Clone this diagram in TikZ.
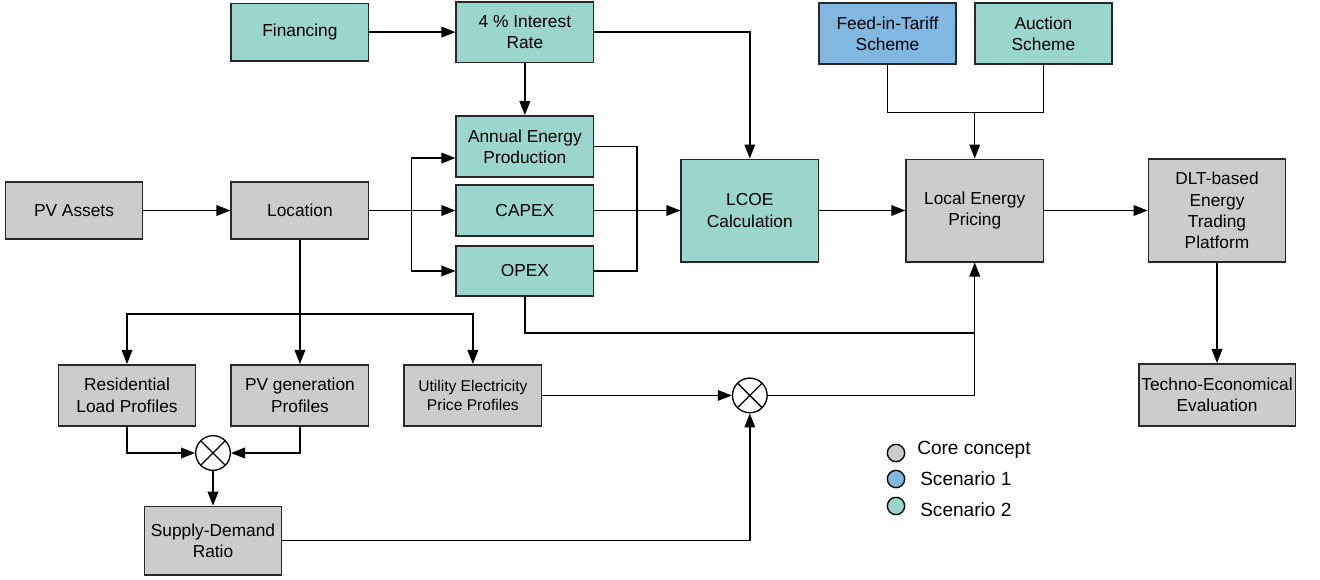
\documentclass[tikz,border=0pt]{standalone}
\usepackage{fontspec}
\setmainfont{Liberation Sans}
\usepackage{xcolor}
\usepackage{tikz}
\usetikzlibrary{arrows.meta, positioning, calc}
\definecolor{coregray}{RGB}{204,204,204}
\definecolor{scenblue}{RGB}{128,184,226}
\definecolor{scenteal}{RGB}{154,214,203}
\definecolor{edgedark}{RGB}{40,40,40}

\begin{document}
\begin{tikzpicture}[
  x=0.75pt, y=-0.75pt,
  node distance=0pt,
  box/.style={
    rectangle, minimum width=103pt, minimum height=43pt, inner sep=2pt,
    align=center, draw=edgedark, line width=1.2pt,
    font=\fontsize{13}{16}\selectfont
  },
  core/.style={box, fill=coregray},
  scenA/.style={box, fill=scenblue},
  scenB/.style={box, fill=scenteal},
  mult/.style={
    circle, draw=black, fill=white, line width=1pt, minimum size=26pt, inner sep=0pt,
    path picture={\draw[line width=1pt]
      (path picture bounding box.north west) -- (path picture bounding box.south east)
      (path picture bounding box.south west) -- (path picture bounding box.north east);}
  },
  arr/.style={-{Triangle[length=10.5pt, width=8pt]}, line width=1.05pt, color=black},
  link/.style={line width=1.05pt, color=black},
  legdot/.style={circle, draw=black, line width=1pt, minimum size=13pt, inner sep=0pt},
  legtext/.style={anchor=west, inner sep=0pt, font=\fontsize{14.3}{17}\selectfont}
]
  \useasboundingbox (0,0) rectangle (1320,579);

  % Main chain nodes
  \node[core] (pv) at (74,210.5) {PV Assets};
  \node[core, right=65.25pt of pv] (loc) {Location};
  \node[scenB, right=64.5pt of loc, minimum height=38.5pt] (capex) {CAPEX};
  \node[scenB, above=4.5pt of capex, minimum height=46pt] (aep) {Annual Energy\\Production};
  \node[scenB, below=6pt of capex, minimum height=37.8pt] (opex) {OPEX};
  \node[scenB, above=39pt of aep, minimum height=45.3pt] (rate) {4 \% Interest\\Rate};
  \node[scenB, left=64.5pt of rate] (fin) {Financing};
  \node[scenB, right=64.5pt of capex, minimum height=76.8pt] (lcoe) {LCOE\\Calculation};
  \node[core, right=64.5pt of lcoe, minimum height=76.8pt] (lep) {Local Energy\\Pricing};
  \node[core, right=77.5pt of lep, minimum height=77.5pt] (dlt) {DLT-based\\Energy\\Trading\\Platform};

  % Pricing schemes on top
  \node[scenA, minimum height=46pt] (fit) at (887.5,33.5) {Feed-in-Tariff\\Scheme};
  \node[scenB, right=12.75pt of fit, minimum height=46pt] (auc) {Auction\\Scheme};

  % Profile nodes below
  \node[core, below=93pt of loc, minimum height=46pt] (pvgen) {PV generation\\Profiles};
  \node[core, left=25.5pt of pvgen, minimum height=46pt] (resload) {Residential\\Load Profiles};
  \node[core, right=25.5pt of pvgen, minimum height=46pt,
        font=\fontsize{11.7}{14.25}\selectfont] (util) {Utility Electricity\\Price Profiles};
  \node[mult] (mulA) at (213,453) {};
  \node[core, below=26pt of mulA, minimum height=51.3pt] (sdr) {Supply-Demand\\Ratio};
  \node[mult] (mulB) at (lcoe |- util) {};
  \node[core, below=75pt of dlt, minimum width=115.8pt, minimum height=46.8pt] (tee) {Techno-Economical\\Evaluation};

  % Arrows of the main chain
  \draw[arr] (pv) -- (loc);
  \draw[arr] (fin) -- (rate);
  \draw[arr] (rate) -- (aep);
  \draw[arr] (rate) -| (lcoe);
  \draw[arr] (loc) -- (capex);
  \coordinate (fork) at ($(loc.east)+(31.5pt,0)$);
  \draw[arr] (fork) |- ([yshift=-8.6pt]aep.west);
  \draw[arr] (fork) |- (opex);
  \draw[link] (aep.east) -- ++(32pt,0) |- (opex.east);
  \draw[arr] (capex) -- (lcoe);
  \draw[arr] (lcoe) -- (lep);
  \draw[arr] (lep) -- (dlt);
  \draw[arr] (dlt) -- (tee);

  % Schemes into pricing
  \coordinate (tariffjoin) at ($(lep.north)+(0,34.5pt)$);
  \draw[link] (fit) |- (tariffjoin) -| (auc);
  \draw[arr] (tariffjoin) -- (lep);

  % Location into profiles
  \coordinate (split) at ($(loc.south)+(0,-55.5pt)$);
  \draw[arr] (loc) -- (pvgen);
  \draw[arr] (split) -| (resload);
  \draw[arr] (split) -| (util);
  \draw[arr] (resload) |- (mulA);
  \draw[arr] (pvgen) |- (mulA);
  \draw[arr] (mulA) -- (sdr);
  \draw[arr] (util) -- (mulB);
  \draw[arr] (sdr) -| (mulB);
  \draw[arr] (mulB) -| (lep);
  \coordinate (opexjoin) at ($(opex.south)+(0,-27pt)$);
  \draw[link] (opex) |- (lep.south |- opexjoin);

  % Legend
  \node[legdot, fill=coregray] (dotcore) at (896,453) {};
  \node[legdot, fill=scenblue] (dotone) at (896,479) {};
  \node[legdot, fill=scenteal] (dottwo) at (896,506) {};
  \node[legtext] (txtcore) at (917,450) {Core concept};
  \node[legtext] (txtone) at (920,479) {Scenario 1};
  \node[legtext] (txttwo) at (920,510) {Scenario 2};
\end{tikzpicture}
\end{document}
